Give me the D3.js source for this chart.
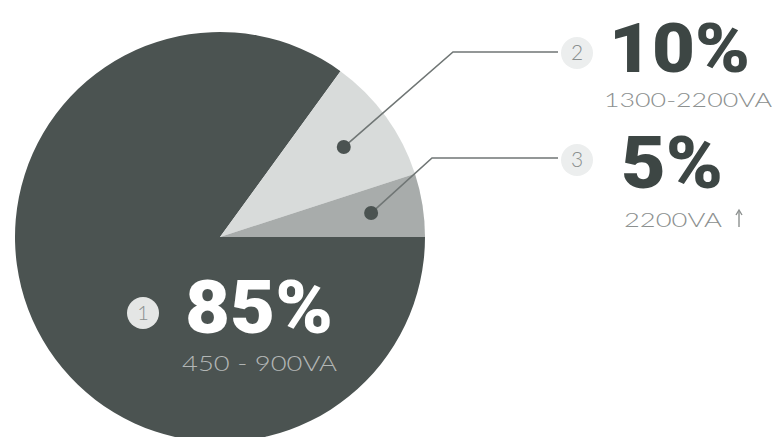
<!DOCTYPE html>
<meta charset="utf-8">
<head>
<style>
body { margin: 0; background: #fff; }
svg { display: block; }
.pct { font-family: Roboto, "Noto Sans", sans-serif; font-weight: 900; }
.sub { font-family: Lato, Roboto, sans-serif; font-weight: 300; }
.num { font-family: Lato, Roboto, sans-serif; font-weight: 300; }
</style>
</head>
<body>
<svg width="774" height="437"></svg>
<script src="https://cdn.jsdelivr.net/npm/d3@7"></script>
<script>

// data
var ids = ["1", "2", "3"];
var shares = [85, 10, 5];
var ranges = ["450 - 900VA", "1300-2200VA", "2200VA"];
var colors = ["#4b5351", "#d8dbda", "#a8acab"];

var svg = d3.select("svg"),
    width = +svg.attr("width"),
    height = +svg.attr("height");

var cx = 220, cy = 237, R = 205;

var pie = d3.pie()
    .sort(null)
    .value(function(d) { return d; })
    .startAngle(Math.PI / 2)
    .endAngle(Math.PI / 2 + 2 * Math.PI);

var arcs = pie(shares);

var arc = d3.arc().innerRadius(0).outerRadius(R);
var dotArc = d3.arc().innerRadius(153).outerRadius(153);

var g = svg.append("g").attr("transform", "translate(" + cx + "," + cy + ")");

g.selectAll("path")
  .data(arcs)
  .enter().append("path")
    .attr("d", arc)
    .attr("fill", function(d, i) { return colors[i]; });

// callouts for the two small slices
var callouts = [
  { i: 1, elbow: [453, 52], end: [558, 52], badge: [577, 53], pctX: 609, pctY: 72, pctSize: 68, pctW: 141, subX: 604, subY: 107, subSize: 20, subW: 168, arrow: false },
  { i: 2, elbow: [432, 158], end: [558, 158], badge: [577, 160], pctX: 621, pctY: 188, pctSize: 72, pctW: 102, subX: 624, subY: 227, subSize: 20, subW: 98, arrow: true }
];

callouts.forEach(function(c) {
  var p = dotArc.centroid(arcs[c.i]);
  var dx = cx + p[0], dy = cy + p[1];

  svg.append("polyline")
    .attr("points", [[dx, dy], c.elbow, c.end].map(function(q) { return q.join(","); }).join(" "))
    .attr("fill", "none")
    .attr("stroke", "#707675")
    .attr("stroke-width", 1.6);

  svg.append("circle")
    .attr("cx", dx).attr("cy", dy).attr("r", 7)
    .attr("fill", "#4b5351");

  svg.append("circle")
    .attr("cx", c.badge[0]).attr("cy", c.badge[1]).attr("r", 16)
    .attr("fill", "#eceeee");

  svg.append("text")
    .attr("class", "num")
    .attr("x", c.badge[0]).attr("y", c.badge[1] + 7)
    .attr("text-anchor", "middle")
    .attr("font-size", 21)
    .attr("fill", "#8a8f8e")
    .text(ids[c.i]);

  svg.append("text")
    .attr("class", "pct")
    .attr("x", c.pctX).attr("y", c.pctY)
    .attr("font-size", c.pctSize)
    .attr("textLength", c.pctW)
    .attr("lengthAdjust", "spacingAndGlyphs")
    .attr("fill", "#3d4644")
    .text(shares[c.i] + "%");

  svg.append("text")
    .attr("class", "sub")
    .attr("x", c.subX).attr("y", c.subY)
    .attr("font-size", c.subSize)
    .attr("textLength", c.subW)
    .attr("lengthAdjust", "spacingAndGlyphs")
    .attr("fill", "#8c908f")
    .text(ranges[c.i]);

  if (c.arrow) {
    // thin up arrow after the range text
    var ax = c.subX + c.subW + 17, ay = c.subY;
    svg.append("line")
      .attr("x1", ax).attr("y1", ay).attr("x2", ax).attr("y2", ay - 16)
      .attr("stroke", "#8c908f").attr("stroke-width", 1.4);
    svg.append("path")
      .attr("d", "M" + (ax - 3) + "," + (ay - 12) + "L" + ax + "," + (ay - 17) + "L" + (ax + 3) + "," + (ay - 12))
      .attr("fill", "none")
      .attr("stroke", "#8c908f").attr("stroke-width", 1.4);
  }
});

// big slice label
svg.append("circle")
  .attr("cx", 143).attr("cy", 313).attr("r", 16)
  .attr("fill", "#e4e6e5");

svg.append("text")
  .attr("class", "num")
  .attr("x", 143).attr("y", 320)
  .attr("text-anchor", "middle")
  .attr("font-size", 20)
  .attr("fill", "#8a8f8e")
  .text(ids[0]);

svg.append("text")
  .attr("class", "pct")
  .attr("x", 185).attr("y", 333)
  .attr("font-size", 74)
  .attr("textLength", 148)
  .attr("lengthAdjust", "spacingAndGlyphs")
  .attr("fill", "#ffffff")
  .text(shares[0] + "%");

svg.append("text")
  .attr("class", "sub")
  .attr("x", 182).attr("y", 371)
  .attr("font-size", 21)
  .attr("textLength", 155)
  .attr("lengthAdjust", "spacingAndGlyphs")
  .attr("fill", "#b3b7b6")
  .text(ranges[0]);

</script>
</body>
